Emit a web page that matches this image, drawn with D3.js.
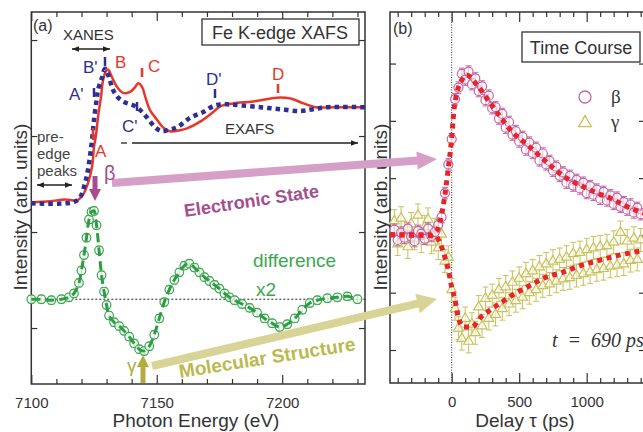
<!DOCTYPE html>
<html lang="en">
<head>
<meta charset="UTF-8">
<title>Fe K-edge XAFS and time course</title>
<script src="https://d3js.org/d3.v7.min.js"></script>
<style>
  body { margin: 0; background: #fff; }
  svg { display: block; font-family: "Liberation Sans", Arial, sans-serif; }
  .tick text { font-size: 15px; fill: #333; font-family: "Liberation Sans", Arial, sans-serif; }
  .domain { display: none; }
  .tick line { stroke: #333; stroke-width: 1.2; }
  .lbl { font-size: 17px; }
  .ttl { font-size: 19px; fill: #333; }
</style>
</head>
<body>
<svg id="chart" width="643" height="432"></svg>
<script>
// ---- panel (a): XAFS spectra ----
const energyRed = [7100, 7107.5, 7113.4, 7118.2, 7120.6, 7122.6, 7124.2, 7125.0, 7125.8, 7126.6, 7127.8, 7128.6, 7129.8, 7130.6, 7132.2, 7134.2, 7136.6, 7139.4, 7141.4, 7142.6, 7144.2, 7145.4, 7147.3, 7150.1, 7152.5, 7155.3, 7159.3, 7162.1, 7167.3, 7172.5, 7175.3, 7180.5, 7188.5, 7198.1, 7203.3, 7208.5, 7213.2, 7220.4, 7233];
const intRed = [1.31, 1.32, 1.34, 1.33, 1.39, 1.51, 1.68, 1.89, 2.01, 2.20, 2.41, 2.58, 2.68, 2.69, 2.61, 2.51, 2.45, 2.46, 2.51, 2.55, 2.51, 2.41, 2.27, 2.17, 2.09, 2.05, 2.06, 2.08, 2.15, 2.25, 2.31, 2.34, 2.36, 2.40, 2.39, 2.34, 2.30, 2.30, 2.30];

const energyBlue = [7100, 7116.6, 7119.4, 7121.4, 7122.6, 7124.2, 7125.0, 7126.2, 7126.6, 7128.2, 7129.4, 7130.6, 7132.6, 7134.6, 7137.4, 7140.6, 7143.4, 7146.2, 7149.4, 7152.1, 7155.3, 7158.1, 7163.3, 7168.5, 7173.3, 7178.1, 7183.3, 7191.2, 7199.2, 7207.2, 7212.4, 7218.0, 7233];
const intBlue = [1.30, 1.31, 1.36, 1.51, 1.65, 1.96, 2.17, 2.41, 2.48, 2.61, 2.70, 2.64, 2.48, 2.40, 2.35, 2.32, 2.27, 2.19, 2.09, 2.05, 2.07, 2.09, 2.19, 2.25, 2.32, 2.33, 2.32, 2.30, 2.28, 2.26, 2.28, 2.30, 2.30];

const energyDiff = [7100, 7104, 7108, 7112, 7115, 7117, 7119, 7120, 7121, 7122, 7123, 7124, 7125, 7126, 7127, 7128, 7129, 7130, 7131, 7133, 7135, 7137, 7139, 7141, 7143, 7145, 7147, 7149, 7151, 7153, 7155, 7157, 7159, 7161, 7163, 7165, 7167, 7169, 7171, 7173, 7175, 7177, 7179, 7181, 7184, 7187, 7190, 7193, 7196, 7199, 7202, 7205, 7208, 7211, 7214, 7218, 7222, 7226, 7230];
const intDiff = [0.30, 0.30, 0.29, 0.30, 0.32, 0.36, 0.47, 0.60, 0.76, 0.94, 1.13, 1.21, 1.22, 1.07, 0.81, 0.55, 0.38, 0.24, 0.13, 0.06, 0.02, -0.03, -0.09, -0.16, -0.22, -0.24, -0.19, -0.07, 0.10, 0.27, 0.40, 0.50, 0.58, 0.65, 0.67, 0.63, 0.58, 0.53, 0.49, 0.45, 0.41, 0.36, 0.32, 0.29, 0.25, 0.21, 0.16, 0.10, 0.05, 0.01, 0.04, 0.10, 0.19, 0.26, 0.29, 0.31, 0.32, 0.33, 0.30];
const diffZero = 0.30;
const diffErr = 0.04;

const energyMajor = [7100, 7150, 7200];
const energyMinor = [7110, 7120, 7130, 7140, 7160, 7170, 7180, 7190, 7210, 7220, 7230];
const intTicksA = [0, 1, 2, 3];

// ---- panel (b): time course ----
const delays = [-425, -400, -375, -350, -325, -300, -275, -250, -225, -200, -175, -150, -125, -100, -75, -50, -25, 0, 25, 50, 75, 100, 125, 150, 175, 200, 225, 250, 275, 300, 325, 350, 375, 400, 425, 450, 475, 500, 525, 550, 575, 600, 625, 650, 675, 700, 725, 750, 775, 800, 825, 850, 875, 900, 925, 950, 975, 1000, 1025, 1050, 1075, 1100, 1125, 1150, 1175, 1200, 1225, 1250, 1275, 1300, 1325, 1350, 1375, 1400];
const betaVals = [2.10, 1.92, 2.05, 1.96, 2.12, 1.98, 1.90, 2.08, 2.03, 1.94,
  2.12, 1.99, 2.06, 2.18, 2.32, 2.74, 3.24, 3.68, 4.38, 4.58,
  4.82, 4.72, 4.86, 4.64, 4.74, 4.52, 4.60, 4.36, 4.44, 4.22,
  4.24, 4.04, 4.12, 3.88, 3.98, 3.76, 3.82, 3.64, 3.72, 3.50,
  3.62, 3.44, 3.53, 3.31, 3.43, 3.24, 3.30, 3.13, 3.20, 3.04,
  3.10, 2.92, 3.04, 2.87, 2.97, 2.82, 2.92, 2.74, 2.86, 2.71,
  2.80, 2.64, 2.76, 2.61, 2.70, 2.55, 2.66, 2.50, 2.58, 2.45,
  2.54, 2.40, 2.48, 2.37];
const gammaVals = [2.25, 1.85, 2.30, 2.05, 1.80, 2.20, 1.95, 2.35, 1.90, 2.15,
  2.28, 1.88, 2.10, 1.78, 2.02, 1.55, 1.62, 1.05, 0.72, 0.38,
  0.20, 0.55, 0.15, 0.45, 0.30, 0.75, 0.42, 0.90, 0.55, 0.95,
  0.62, 1.05, 0.72, 1.10, 0.80, 1.18, 0.86, 1.25, 0.92, 1.33,
  1.00, 1.38, 1.05, 1.45, 1.12, 1.50, 1.15, 1.55, 1.20, 1.58,
  1.24, 1.62, 1.26, 1.68, 1.30, 1.70, 1.33, 1.75, 1.36, 1.78,
  1.40, 1.80, 1.42, 1.82, 1.46, 1.88, 1.48, 2.05, 1.50, 1.90,
  1.56, 1.95, 1.58, 1.92];
const betaErr = 0.1;
const gammaErr = 0.2;

const fitTimesBeta = [-457, -150, -125, -100, -75, -50, -25, 0, 15, 40, 75, 110, 190, 270, 360, 450, 560, 660, 750, 850, 950, 1075, 1175, 1300, 1432];
const fitBeta = [2.01, 2.01, 2.05, 2.13, 2.36, 2.71, 3.18, 3.70, 4.15, 4.50, 4.71, 4.80, 4.62, 4.36, 4.07, 3.80, 3.58, 3.37, 3.18, 3.00, 2.88, 2.74, 2.65, 2.50, 2.38];
const fitTimesGamma = [-457, -120, -87, -50, -25, 0, 25, 50, 90, 150, 210, 285, 375, 450, 560, 690, 825, 965, 1100, 1250, 1432];
const fitGamma = [2.01, 1.99, 1.87, 1.62, 1.40, 1.10, 0.87, 0.56, 0.40, 0.40, 0.56, 0.70, 0.84, 0.96, 1.10, 1.26, 1.36, 1.48, 1.57, 1.66, 1.74];

const delayMajor = [0, 500, 1000];
const delayMinor = [-400, -300, -200, -100, 100, 200, 300, 400, 600, 700, 800, 900, 1100, 1200, 1300, 1400];
const intTicksB = [0, 1, 2, 3, 4, 5];

const svg = d3.select("#chart");

const red = "#e8362a", blue = "#2d2f92", green = "#3aa84c";
const pink = "#c266a4", olive = "#c8c25a", fitRed = "#e8232a";

// scales
const xA = d3.scaleLinear().domain([7100, 7233]).range([31.3, 365]);
const yA = d3.scaleLinear().domain([-0.583, 3.292]).range([384, 12]);
const xB = d3.scaleLinear().domain([-457, 1432]).range([390, 645]);
const yB = d3.scaleLinear().domain([-0.576, 5.9]).range([383, 12]);

const defs = svg.append("defs");
defs.append("marker").attr("id", "ah")
  .attr("viewBox", "0 0 10 10").attr("refX", 10).attr("refY", 5)
  .attr("markerWidth", 8).attr("markerHeight", 7)
  .attr("markerUnits", "userSpaceOnUse").attr("orient", "auto-start-reverse")
  .append("path").attr("d", "M0,1L10,5L0,9Z").attr("fill", "#222");

// axis titles (drawn first so bands sit on top)
svg.append("text").attr("class", "ttl").attr("text-anchor", "middle")
  .attr("transform", "translate(27,207) rotate(-90)").text("Intensity (arb. units)");
svg.append("text").attr("class", "ttl").attr("text-anchor", "middle")
  .attr("transform", "translate(387,207) rotate(-90)").text("Intensity (arb. units)");
svg.append("text").attr("class", "ttl").attr("text-anchor", "middle")
  .attr("x", 196).attr("y", 427).text("Photon Energy (eV)");
svg.append("text").attr("class", "ttl").attr("text-anchor", "middle")
  .attr("x", 525).attr("y", 427).text("Delay τ (ps)");

// ---------- panel (a) ----------
const gA = svg.append("g");
gA.append("rect").attr("x", 31.3).attr("y", 12).attr("width", 365 - 31.3).attr("height", 372)
  .attr("fill", "none").attr("stroke", "#333").attr("stroke-width", 1.5);

gA.append("g").attr("transform", "translate(0,384)")
  .call(d3.axisBottom(xA).tickValues(energyMinor).tickSize(-5).tickFormat(""));
gA.append("g").attr("transform", "translate(0,384)")
  .call(d3.axisBottom(xA).tickValues(energyMajor).tickSize(-9).tickPadding(13).tickFormat(d3.format("d")));
gA.append("g").attr("transform", "translate(0,12)")
  .call(d3.axisTop(xA).tickValues(energyMinor).tickSize(-5).tickFormat(""));
gA.append("g").attr("transform", "translate(0,12)")
  .call(d3.axisTop(xA).tickValues(energyMajor).tickSize(-9).tickFormat(""));
gA.append("g").attr("transform", "translate(31.3,0)")
  .call(d3.axisLeft(yA).tickValues(intTicksA).tickSize(-6).tickFormat(""));
gA.append("g").attr("transform", "translate(365,0)")
  .call(d3.axisRight(yA).tickValues(intTicksA).tickSize(-6).tickFormat(""));

// zero line of the difference
gA.append("line").attr("x1", 31.3).attr("x2", 365)
  .attr("y1", yA(diffZero)).attr("y2", yA(diffZero))
  .attr("stroke", "#222").attr("stroke-width", 1).attr("stroke-dasharray", "2,2");

const lineA = d3.line().curve(d3.curveCatmullRom.alpha(0.5));
gA.append("path")
  .attr("d", lineA(energyRed.map((e, i) => [xA(e), yA(intRed[i])])))
  .attr("fill", "none").attr("stroke", red).attr("stroke-width", 2.5);
gA.append("path")
  .attr("d", lineA(energyBlue.map((e, i) => [xA(e), yA(intBlue[i])])))
  .attr("fill", "none").attr("stroke", blue).attr("stroke-width", 4.5).attr("stroke-dasharray", "4.5,4");

// difference points with error bars
const diffPts = energyDiff.map((e, i) => ({ e, v: intDiff[i] }));
const dG = gA.append("g");
dG.selectAll("path.err").data(diffPts).enter().append("path")
  .attr("d", d => {
    const x = xA(d.e), y1 = yA(d.v - diffErr), y2 = yA(d.v + diffErr);
    return `M${x},${y1}V${y2}M${x - 3},${y1}H${x + 3}M${x - 3},${y2}H${x + 3}`;
  })
  .attr("stroke", green).attr("stroke-width", 1).attr("fill", "none");
dG.selectAll("circle").data(diffPts).enter().append("circle")
  .attr("cx", d => xA(d.e)).attr("cy", d => yA(d.v)).attr("r", 4.3)
  .attr("fill", "#fff").attr("fill-opacity", 0.7).attr("stroke", green).attr("stroke-width", 1.2);
gA.append("path")
  .attr("d", d3.line().curve(d3.curveCatmullRom)(diffPts.map(d => [xA(d.e), yA(d.v)])))
  .attr("fill", "none").attr("stroke", "#2e9c44").attr("stroke-width", 3).attr("stroke-dasharray", "9,5");

// feature labels
const featureLabels = [
  { t: "B'", x: 83, y: 73, c: blue }, { t: "B", x: 115, y: 68, c: red },
  { t: "C", x: 148, y: 72, c: red }, { t: "A'", x: 69, y: 100, c: blue },
  { t: "C'", x: 122, y: 132, c: blue }, { t: "D'", x: 206, y: 85, c: blue },
  { t: "D", x: 272, y: 80, c: red }, { t: "A", x: 95, y: 157, c: red }
];
gA.selectAll("text.feat").data(featureLabels).enter().append("text")
  .attr("class", "lbl").attr("x", d => d.x).attr("y", d => d.y)
  .attr("fill", d => d.c).text(d => d.t);
const featureTicks = [
  { x: 105, y1: 57, y2: 66, c: blue }, { x: 142, y1: 68, y2: 77, c: red },
  { x: 94, y1: 88, y2: 97, c: blue }, { x: 137, y1: 102, y2: 111, c: blue },
  { x: 215, y1: 89, y2: 98, c: blue }, { x: 278, y1: 84, y2: 93, c: red },
  { x: 93, y1: 128, y2: 140, c: red }
];
gA.selectAll("line.ft").data(featureTicks).enter().append("line")
  .attr("x1", d => d.x).attr("x2", d => d.x).attr("y1", d => d.y1).attr("y2", d => d.y2)
  .attr("stroke", d => d.c).attr("stroke-width", 2.5);

// region annotations
gA.append("text").attr("x", 33).attr("y", 31).attr("font-size", 16).attr("fill", "#333").text("(a)");
gA.append("text").attr("x", 63).attr("y", 40).attr("font-size", 15).attr("fill", "#333").text("XANES");
gA.append("line").attr("x1", 72).attr("x2", 110).attr("y1", 49).attr("y2", 49)
  .attr("stroke", "#222").attr("stroke-width", 1.3)
  .attr("marker-start", "url(#ah)").attr("marker-end", "url(#ah)");
gA.append("rect").attr("x", 202).attr("y", 19).attr("width", 157).attr("height", 26)
  .attr("fill", "#fff").attr("stroke", "#333").attr("stroke-width", 1.3);
gA.append("text").attr("x", 280).attr("y", 39).attr("text-anchor", "middle")
  .attr("font-size", 18).attr("fill", "#333").text("Fe K-edge XAFS");

["pre-", "edge", "peaks"].forEach((t, i) => {
  gA.append("text").attr("x", 37).attr("y", 142 + i * 17).attr("font-size", 15).attr("fill", "#444").text(t);
});
gA.append("line").attr("x1", 37).attr("x2", 72).attr("y1", 185).attr("y2", 185)
  .attr("stroke", "#222").attr("stroke-width", 1.3)
  .attr("marker-start", "url(#ah)").attr("marker-end", "url(#ah)");

gA.append("text").attr("x", 225).attr("y", 134).attr("font-size", 15).attr("fill", "#333").text("EXAFS");
gA.append("line").attr("x1", 121).attr("x2", 127).attr("y1", 143).attr("y2", 143)
  .attr("stroke", "#222").attr("stroke-width", 1.3);
gA.append("line").attr("x1", 132).attr("x2", 358).attr("y1", 143).attr("y2", 143)
  .attr("stroke", "#222").attr("stroke-width", 1.3).attr("marker-end", "url(#ah)");

gA.append("text").attr("x", 253).attr("y", 267).attr("font-size", 19).attr("fill", green).text("difference");
gA.append("text").attr("x", 256).attr("y", 296).attr("font-size", 19).attr("fill", green).text("x2");

// ---------- panel (b) ----------
const gB = svg.append("g");
gB.append("rect").attr("x", 390).attr("y", 12).attr("width", 255).attr("height", 371)
  .attr("fill", "none").attr("stroke", "#333").attr("stroke-width", 1.5);

gB.append("g").attr("transform", "translate(0,383)")
  .call(d3.axisBottom(xB).tickValues(delayMinor).tickSize(-5).tickFormat(""));
gB.append("g").attr("transform", "translate(0,383)")
  .call(d3.axisBottom(xB).tickValues(delayMajor).tickSize(-10).tickPadding(13).tickFormat(d3.format("d")));
gB.append("g").attr("transform", "translate(0,12)")
  .call(d3.axisTop(xB).tickValues(delayMinor).tickSize(-5).tickFormat(""));
gB.append("g").attr("transform", "translate(0,12)")
  .call(d3.axisTop(xB).tickValues(delayMajor).tickSize(-10).tickFormat(""));
gB.append("g").attr("transform", "translate(390,0)")
  .call(d3.axisLeft(yB).tickValues(intTicksB).tickSize(-6).tickFormat(""));
gB.append("g").attr("transform", "translate(645,0)")
  .call(d3.axisRight(yB).tickValues(intTicksB).tickSize(-6).tickFormat(""));

gB.append("line").attr("x1", xB(0)).attr("x2", xB(0)).attr("y1", 12).attr("y2", 383)
  .attr("stroke", "#333").attr("stroke-width", 1).attr("stroke-dasharray", "1,1.5");

const errPath = (x, v, e, y) => {
  const y1 = y(v - e), y2 = y(v + e);
  return `M${x},${y1}V${y2}M${x - 3},${y1}H${x + 3}M${x - 3},${y2}H${x + 3}`;
};

const gammaPts = delays.map((t, i) => ({ t, v: gammaVals[i] }));
const betaPts = delays.map((t, i) => ({ t, v: betaVals[i] }));
const tri = d3.symbol().type(d3.symbolTriangle).size(42);

const gG = gB.append("g");
gG.selectAll("path.err").data(gammaPts).enter().append("path")
  .attr("d", d => errPath(xB(d.t), d.v, gammaErr, yB))
  .attr("stroke", olive).attr("stroke-width", 1).attr("fill", "none");
gG.selectAll("path.sym").data(gammaPts).enter().append("path")
  .attr("d", tri).attr("transform", d => `translate(${xB(d.t)},${yB(d.v)})`)
  .attr("fill", "#fff").attr("fill-opacity", 0.6).attr("stroke", olive).attr("stroke-width", 1.2);

const bG = gB.append("g");
bG.selectAll("path.err").data(betaPts).enter().append("path")
  .attr("d", d => errPath(xB(d.t), d.v, betaErr, yB))
  .attr("stroke", pink).attr("stroke-width", 1).attr("fill", "none");
bG.selectAll("circle").data(betaPts).enter().append("circle")
  .attr("cx", d => xB(d.t)).attr("cy", d => yB(d.v)).attr("r", 4.5)
  .attr("fill", "#fff").attr("fill-opacity", 0.6).attr("stroke", pink).attr("stroke-width", 1.2);

const fitLine = d3.line().curve(d3.curveMonotoneX);
gB.append("path")
  .attr("d", fitLine(fitTimesBeta.map((t, i) => [xB(t), yB(fitBeta[i])])))
  .attr("fill", "none").attr("stroke", fitRed).attr("stroke-width", 5).attr("stroke-dasharray", "5,4.5");
gB.append("path")
  .attr("d", fitLine(fitTimesGamma.map((t, i) => [xB(t), yB(fitGamma[i])])))
  .attr("fill", "none").attr("stroke", fitRed).attr("stroke-width", 5).attr("stroke-dasharray", "5,4.5");

gB.append("text").attr("x", 393).attr("y", 34).attr("font-size", 16).attr("fill", "#333").text("(b)");
gB.append("rect").attr("x", 522).attr("y", 32).attr("width", 118).attr("height", 30)
  .attr("fill", "#fff").attr("stroke", "#333").attr("stroke-width", 1.3);
gB.append("text").attr("x", 581).attr("y", 54).attr("text-anchor", "middle")
  .attr("font-size", 18).attr("fill", "#333").text("Time Course");

gB.append("circle").attr("cx", 585).attr("cy", 97).attr("r", 6)
  .attr("fill", "none").attr("stroke", pink).attr("stroke-width", 1.3);
gB.append("path").attr("d", d3.symbol().type(d3.symbolTriangle).size(70))
  .attr("transform", "translate(585,123)")
  .attr("fill", "none").attr("stroke", olive).attr("stroke-width", 1.3);
gB.append("text").attr("x", 611).attr("y", 103).attr("font-size", 19)
  .attr("font-family", "'Liberation Serif', 'Times New Roman', serif").attr("fill", "#333").text("β");
gB.append("text").attr("x", 611).attr("y", 128).attr("font-size", 19)
  .attr("font-family", "'Liberation Serif', 'Times New Roman', serif").attr("fill", "#333").text("γ");

gB.append("text").attr("x", 552).attr("y", 347).attr("font-size", 20).attr("font-style", "italic")
  .attr("font-family", "'Liberation Serif', 'Times New Roman', serif").attr("fill", "#333")
  .attr("xml:space", "preserve").text("t  =  690 ps");

// ---------- connecting bands ----------
function bandArrow(x1, y1, x2, y2, w, hl, hw, color) {
  const a = Math.atan2(y2 - y1, x2 - x1), c = Math.cos(a), s = Math.sin(a);
  const bx = x2 - hl * c, by = y2 - hl * s;
  svg.append("line").attr("x1", x1).attr("y1", y1).attr("x2", bx + c).attr("y2", by + s)
    .attr("stroke", color).attr("stroke-width", w);
  svg.append("path")
    .attr("d", `M${x2},${y2}L${bx - hw / 2 * s},${by + hw / 2 * c}L${bx + hw / 2 * s},${by - hw / 2 * c}Z`)
    .attr("fill", color);
}

bandArrow(112, 183, 437, 159, 8, 20, 18, "#d59fc8");
bandArrow(152, 366, 437, 299, 8, 20, 20, "#d8d496");
bandArrow(95, 176, 95, 201, 5, 12, 12, "#a64d8e");
bandArrow(143, 383, 143, 355, 5, 12, 12, "#b3ad3f");

svg.append("text").attr("x", 104).attr("y", 180).attr("font-size", 20)
  .attr("fill", "#a64d8e").text("β");
svg.append("text").attr("x", 127).attr("y", 372).attr("font-size", 19)
  .attr("fill", "#b3ad3f").text("γ");

svg.append("text").attr("transform", "translate(185,217) rotate(-8.5)")
  .attr("font-size", 18).attr("font-weight", "bold").attr("fill", "#a64d8e").text("Electronic State");
svg.append("text").attr("transform", "translate(180,378) rotate(-9)")
  .attr("font-size", 19).attr("font-weight", "bold").attr("fill", "#bdb84e").text("Molecular Structure");
</script>
</body>
</html>
